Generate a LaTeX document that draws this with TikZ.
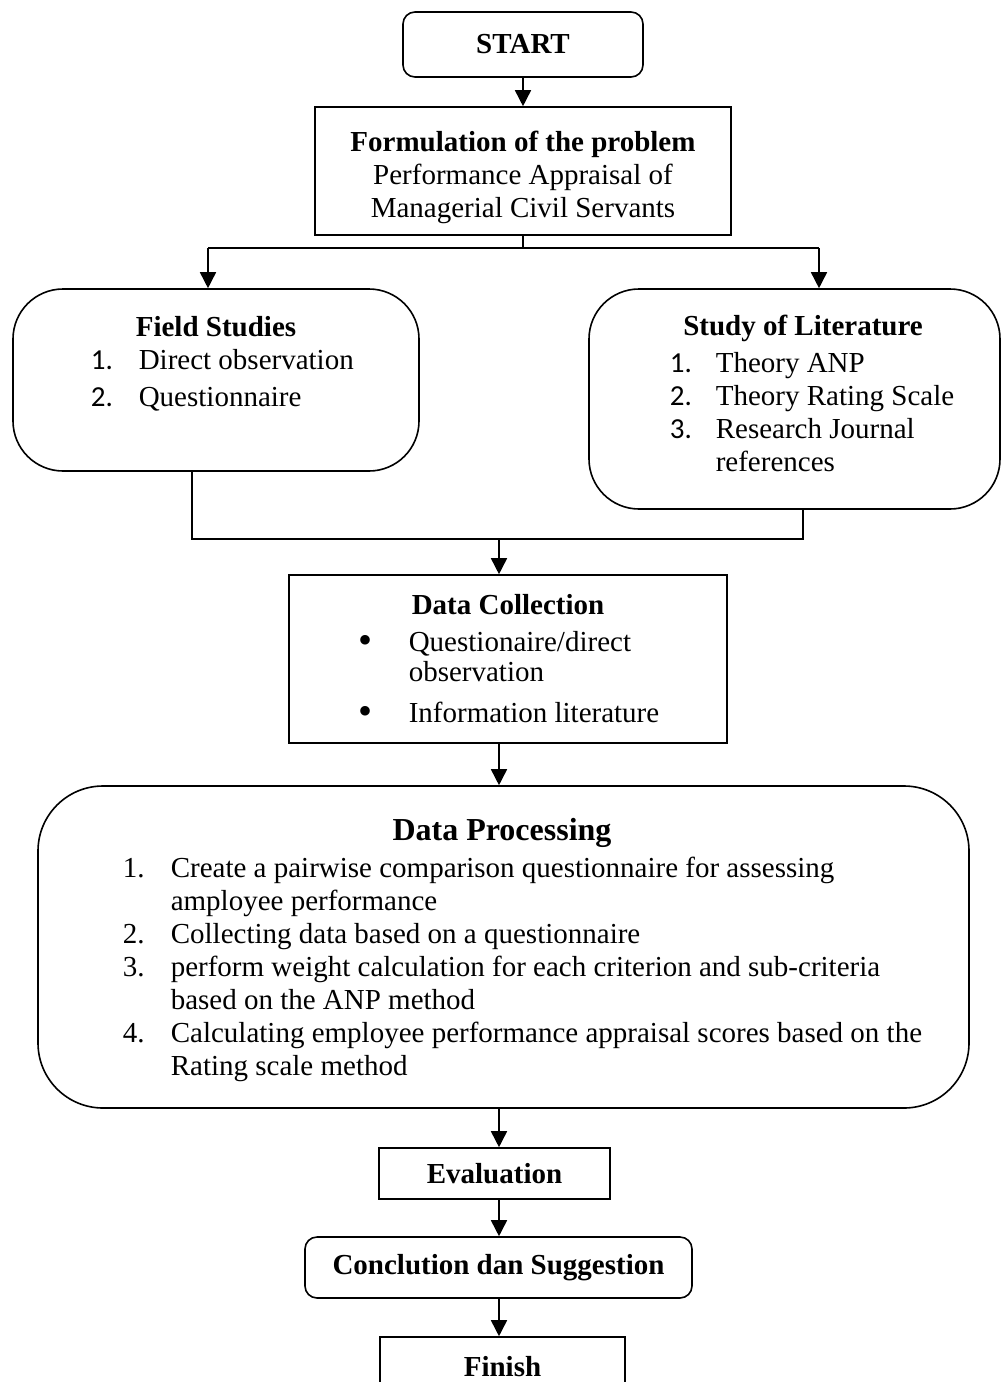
\documentclass[tikz,border=0pt]{standalone}
\usepackage{fontspec}
\setmainfont{Liberation Serif}
\newfontfamily\numfont{Carlito}
\usetikzlibrary{arrows.meta}
\newcommand{\bigdot}{{\fontsize{40}{33}\selectfont\raisebox{-2pt}{\textbullet}}}

\begin{document}
\begin{tikzpicture}[x=1pt, y=-1pt, line width=1.6pt,
    sqbox/.style={draw, inner sep=0pt},
    rbox/.style={sqbox, rounded corners=#1},
    arr/.style={-{Triangle[length=16pt,width=16pt]}},
    txt/.style={inner sep=0pt, font=\fontsize{29}{33}\selectfont},
    ttl/.style={inner sep=0pt, font=\fontsize{29}{33}\selectfont\bfseries}]
        \useasboundingbox (0,0) rectangle (1003,1382);
        \clip (0,0) rectangle (1003,1382);

        \node[rbox=12pt, minimum width=240pt, minimum height=65pt, ttl] (start) at (523,44.5) {START};

        \node[sqbox, minimum width=416pt, minimum height=128pt] (form) at (523,171) {};
        \node[txt, align=center] (formtxt) at (523,177) {\textbf{Formulation of the problem}\\Performance Appraisal of\\Managerial Civil Servants};

        \node[rbox=50pt, minimum width=406pt, minimum height=182pt] (field) at (216,380) {};
        \node[ttl] (fieldttl) at (216,327) {Field Studies};
        \node[txt, anchor=base west] (fieldlst) at (90,369) {\begin{tabular}[t]{@{}p{48pt}@{}l@{}}
            {\numfont 1.} & Direct observation\\[4pt]
            {\numfont 2.} & Questionnaire
        \end{tabular}};

        \node[rbox=50pt, minimum width=411pt, minimum height=220pt] (lit) at (794.5,399) {};
        \node[ttl] (litttl) at (803,328) {Study of Literature};
        \node[txt, anchor=base west] (litlst) at (669,372) {\begin{tabular}[t]{@{}p{46pt}@{}l@{}}
            {\numfont 1.} & Theory ANP\\
            {\numfont 2.} & Theory Rating Scale\\
            {\numfont 3.} & Research Journal\\
            & references
        \end{tabular}};

        \node[sqbox, minimum width=438pt, minimum height=168pt] (dc) at (508,659) {};
        \node[ttl] (dcttl) at (508,605) {Data Collection};
        \node[txt, anchor=base west] (dclst) at (358,651) {\begin{tabular}[t]{@{}p{50pt}@{}l@{}}
            \bigdot & Questionaire/direct\\[-3pt]
            & observation\\[8pt]
            \bigdot & Information literature
        \end{tabular}};

        \node[rbox=65pt, minimum width=931pt, minimum height=322pt] (proc) at (503.5,947) {};
        \node[ttl, font=\fontsize{32}{36}\selectfont\bfseries] (procttl) at (502,833) {Data Processing};
        \node[txt, anchor=base west] (proclst) at (122,877) {\begin{tabular}[t]{@{}p{48pt}@{}l@{}}
            1. & Create a pairwise comparison questionnaire for assessing\\
            & amployee performance\\
            2. & Collecting data based on a questionnaire\\
            3. & perform weight calculation for each criterion and sub-criteria\\
            & based on the ANP method\\
            4. & Calculating employee performance appraisal scores based on the\\
            & Rating scale method
        \end{tabular}};

        \node[sqbox, minimum width=231pt, minimum height=51pt, ttl] (eval) at (494.5,1173.5) {Evaluation};
        \node[rbox=12pt, minimum width=387pt, minimum height=61pt, ttl] (concl) at (498.5,1267.5) {Conclution dan Suggestion};
        \node[sqbox, minimum width=245pt, minimum height=60pt, ttl] (finish) at (502.5,1367) {Finish};

        \coordinate (split) at (523,248);
        \coordinate (fieldin) at (208,248);
        \coordinate (litin) at (819,248);
        \coordinate (fieldout) at (192,539);
        \coordinate (litout) at (803,539);
        \coordinate (join) at (499,539);

        \draw[arr] (start) -- (form);
        \draw (form) -- (split);
        \draw (fieldin) -- (litin);
        \draw[arr] (fieldin) -- (fieldin |- field.north);
        \draw[arr] (litin) -- (litin |- lit.north);
        \draw (fieldout |- field.south) -- (fieldout) -- (litout) -- (litout |- lit.south);
        \draw[arr] (join) -- (join |- dc.north);
        \draw[arr] (dc.south -| join) -- (proc.north -| join);
        \draw[arr] (proc.south -| join) -- (eval.north -| join);
        \draw[arr] (eval.south -| join) -- (concl.north -| join);
        \draw[arr] (concl.south -| join) -- (finish.north -| join);
\end{tikzpicture}
\end{document}
